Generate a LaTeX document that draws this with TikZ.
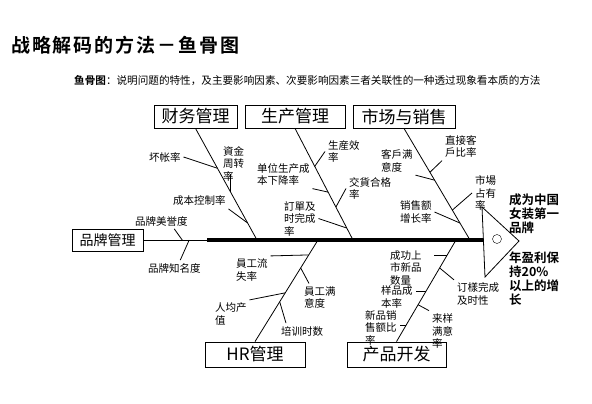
\documentclass[tikz,border=0pt]{standalone}
\usepackage{fontspec}
\setmainfont{Noto Sans CJK SC}[BoldFont={Noto Sans CJK SC Bold}]

\begin{document}
\begin{tikzpicture}[x=1pt,y=-1pt]
\tikzset{box/.style={draw,line width=0.8pt,inner sep=0pt,minimum height=23pt,font=\fontsize{17}{20}\selectfont},
lab/.style={anchor=west,align=left,inner sep=0pt,outer sep=3pt,font=\fontsize{10.5}{12.5}\selectfont},
goal/.style={anchor=west,align=left,inner sep=0pt,font=\fontsize{12.5}{14}\selectfont\bfseries},
bone/.style={line width=0.8pt}}
\useasboundingbox (0,0) rectangle (592,404);
\node[anchor=west,inner sep=0pt,font=\fontsize{19}{21}\selectfont\bfseries\addfontfeatures{LetterSpace=10}] (title) at (11,45) {战略解码的方法－鱼骨图};
\node[anchor=west,inner sep=0pt,font=\fontsize{10.6}{12}\selectfont] (intro) at (74,81) {\textbf{鱼骨图}：说明问题的特性，及主要影响因素、次要影响因素三者关联性的一种透过现象看本质的方法};
\node[box,minimum width=83pt] (fin) at (195.5,116.5) {财务管理};
\node[box,minimum width=100pt] (prod) at (295,116.5) {生产管理};
\node[box,minimum width=102pt] (mkt) at (404,116.5) {市场与销售};
\node[box,minimum width=71pt,minimum height=22pt,font=\fontsize{14}{16}\selectfont] (brand) at (107.5,240) {品牌管理};
\node[box,minimum width=100pt,minimum height=25pt] (hr) at (255,354.5) {HR管理};
\node[box,minimum width=99pt,minimum height=25pt] (dev) at (396.5,354.5) {产品开发};
\coordinate (s0) at (207,240);
\coordinate (s1) at (483,240);
\coordinate (fE) at (257,240);
\coordinate (pE) at (353,240);
\coordinate (mE) at (470,240);
\coordinate (rE) at (318,240);
\coordinate (dE) at (456,240);
\draw[bone] (brand.east) -- (s0) coordinate[pos=.61] (b1) coordinate[pos=.72] (b2);
\draw[line width=4.3pt] (s0) -- (s1);
\coordinate (hd1) at (482,207);
\coordinate (hd2) at (519,241);
\coordinate (hd3) at (485,277);
\draw[bone] (hd1) -- (hd2) -- (hd3) -- cycle;
\node[circle,draw,inner sep=0pt,minimum size=9pt] (eye) at (497,239) {};
\node[goal] (goal1) at (509,213.5) {成为中国\\女装第一\\品牌};
\node[goal] (goal2) at (509,278.5) {年盈利保\\持20\%\\以上的增\\长};
\draw[bone] (fin.south) -- (fE) coordinate[pos=.357] (f1) coordinate[pos=.57] (f2) coordinate[pos=.848] (f3);
\draw[bone] (prod.south) -- (pE) coordinate[pos=.34] (p1) coordinate[pos=.571] (p2) coordinate[pos=.705] (p3) coordinate[pos=.893] (p4);
\draw[bone] (mkt.south) -- (mE) coordinate[pos=.464] (m1) coordinate[pos=.393] (m2) coordinate[pos=.848] (m3) coordinate[pos=.732] (m4);
\draw[bone] (hr.north) -- (rE) coordinate[pos=.853] (r1) coordinate[pos=.725] (r2) coordinate[pos=.48] (r3) coordinate[pos=.392] (r4);
\draw[bone] (dev.north) -- (dE) coordinate[pos=.853] (d1) coordinate[pos=.49] (d2) coordinate[pos=.157] (d3) coordinate[pos=.725] (d4) coordinate[pos=.363] (d5);
\node[lab] (hz) at (146,157) {坏帐率};
\node[lab] (zj) at (220,163.5) {資金\\周转\\率};
\node[lab] (cb) at (170,201) {成本控制率};
\node[lab] (sx) at (325,151.5) {生産效\\率};
\node[lab] (dw) at (254,174.5) {单位生产成\\本下降率};
\node[lab] (jh) at (346,188.5) {交貨合格\\率};
\node[lab] (dd) at (281,218.5) {訂單及\\时完成\\率};
\node[lab] (km) at (378,161) {客戶满\\意度};
\node[lab] (zk) at (442,146.5) {直接客\\戶比率};
\node[lab] (xs) at (397,212) {销售额\\增长率};
\node[lab] (sc) at (472,193) {市場\\占有\\率};
\node[lab] (ls) at (233,270) {員工流\\失率};
\node[lab] (ym) at (301,297.5) {員工满\\意度};
\node[lab] (rj) at (212,314) {人均产\\值};
\node[lab] (px) at (278,331) {培训时数};
\node[lab] (cg) at (387,268) {成功上\\市新品\\数量};
\node[lab] (yp) at (378,297) {样品成\\本率};
\node[lab] (xp) at (362,327.5) {新品销\\售额比\\率};
\node[lab] (dy) at (454,294) {订樣完成\\及时性};
\node[lab] (ly) at (429,331) {来样\\满意\\率};
\node[lab] (pm) at (132,221) {品牌美誉度};
\node[lab] (pz) at (145,268) {品牌知名度};
\coordinate (zj0) at (231,174);
\draw[bone] (f2) -- (f2 |- zj0);
\foreach \a/\b in {hz.east/f1, cb.south east/f3, sx.west/p1, dw.south east/p2, jh.west/p3, dd.east/p4,
  km.south east/m1, zk.south west/m2, xs.east/m3, sc.west/m4, ls.north east/r1,
  rj.north east/r3, dy.north west/d4, ly.north west/d5}
  \draw[bone] (\a) -- (\b);
\draw[bone] ([xshift=8pt]ym.north west) -- (r2);
\draw[bone] ([xshift=8pt]px.north west) -- (r4);
\draw[bone] ([xshift=13pt]pm.south) -- (b1);
\draw[bone] ([xshift=6pt]pz.north) -- (b2);
\draw[bone] (d1) -- ([xshift=9pt]cg.east |- d1);
\draw[bone] (d2) -- (yp.east |- d2);
\draw[bone] (d3) -- (xp.east |- d3);
\end{tikzpicture}
\end{document}
